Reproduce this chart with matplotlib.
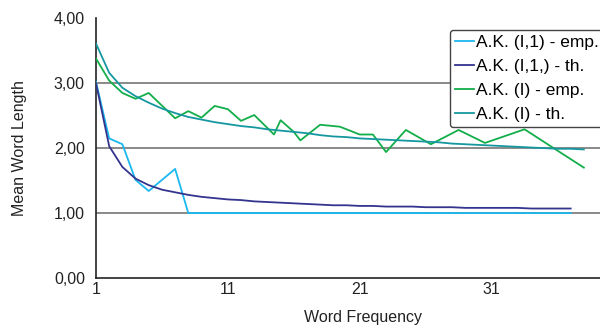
import matplotlib
matplotlib.use("Agg")
import matplotlib.pyplot as plt

plt.rcParams['font.family'] = ['Liberation Sans', 'DejaVu Sans']

# A.K. (I,1) - empirical
emp1_x = [1, 2, 3, 4, 5, 7, 8, 37]
emp1_y = [3.02, 2.15, 2.06, 1.51, 1.34, 1.68, 1.00, 1.00]

# A.K. (I,1,) - theoretical
th1_x = list(range(1, 38))
th1_y = [3.00, 2.03, 1.71, 1.53, 1.43, 1.36, 1.32, 1.28, 1.25, 1.23,
         1.21, 1.20, 1.18, 1.17, 1.16, 1.15, 1.14, 1.13, 1.12, 1.12,
         1.11, 1.11, 1.10, 1.10, 1.10, 1.09, 1.09, 1.09, 1.08, 1.08,
         1.08, 1.08, 1.08, 1.07, 1.07, 1.07, 1.07]

# A.K. (I) - empirical
emp2_x = [1, 2, 3, 4, 5, 7, 8, 9, 10, 11, 12, 13, 14.5, 15, 16, 16.5,
          18, 19.5, 21, 22, 23, 24.5, 26.4, 28.5, 30.5, 33.5, 38]
emp2_y = [3.38, 3.04, 2.85, 2.76, 2.85, 2.46, 2.57, 2.47, 2.65, 2.60,
          2.42, 2.51, 2.21, 2.43, 2.25, 2.12, 2.36, 2.33, 2.21, 2.21,
          1.94, 2.28, 2.06, 2.28, 2.08, 2.29, 1.70]

# A.K. (I) - theoretical
th2_x = list(range(1, 39))
th2_y = [3.61, 3.16, 2.93, 2.80, 2.70, 2.61, 2.54, 2.48, 2.44, 2.40,
         2.37, 2.34, 2.32, 2.29, 2.27, 2.25, 2.23, 2.20, 2.18, 2.17,
         2.15, 2.14, 2.13, 2.12, 2.11, 2.10, 2.09, 2.07, 2.06, 2.05,
         2.04, 2.03, 2.02, 2.01, 2.00, 1.99, 1.99, 1.98]

x_ticks = [1, 11, 21, 31]
y_ticks = [0, 1, 2, 3, 4]
y_tick_labels = ['0,00', '1,00', '2,00', '3,00', '4,00']

fig = plt.figure(figsize=(6, 3.3), dpi=100)
ax = fig.add_axes([0.16, 0.1576, 0.89, 0.787])

for yv in [1, 2, 3]:
    ax.axhline(yv, color='#808080', lw=1.3, zorder=1)

lw = 1.3
ax.plot(emp1_x, emp1_y, color='#1AB8EE', lw=lw, label='A.K. (I,1) - emp.', zorder=3)
ax.plot(th1_x, th1_y, color='#33348E', lw=lw, label='A.K. (I,1,) - th.', zorder=3)
ax.plot(emp2_x, emp2_y, color='#12AE4A', lw=lw, label='A.K. (I) - emp.', zorder=3)
ax.plot(th2_x, th2_y, color='#1597A0', lw=lw, label='A.K. (I) - th.', zorder=3)

ax.set_xlim(1, 41.5)
ax.set_ylim(0, 4)
ax.set_xticks(x_ticks)
ax.set_yticks(y_ticks)
ax.set_yticklabels(y_tick_labels)
ax.tick_params(axis='both', length=0, labelsize=11.5, colors='#222222')
ax.tick_params(axis='y', pad=8)
ax.tick_params(axis='x', pad=3)

for s in ['top', 'right']:
    ax.spines[s].set_visible(False)
for s in ['left', 'bottom']:
    ax.spines[s].set_color('#222222')
    ax.spines[s].set_linewidth(1.2)

ax.set_xlabel('Word Frequency', fontsize=11.5, color='#222222', labelpad=9)
ax.set_ylabel('Mean Word Length', fontsize=11.5, color='#222222', labelpad=19)

leg = fig.legend(loc='upper left', bbox_to_anchor=(450 / 600, 1 - 30 / 330),
                 fontsize=12.5, handlelength=1.1, handletextpad=0.1,
                 borderpad=0.3, labelspacing=0.5, borderaxespad=0,
                 fancybox=True, framealpha=1, edgecolor='#444444')
leg.get_frame().set_linewidth(1.0)

fig.savefig('out.png', dpi=100)
